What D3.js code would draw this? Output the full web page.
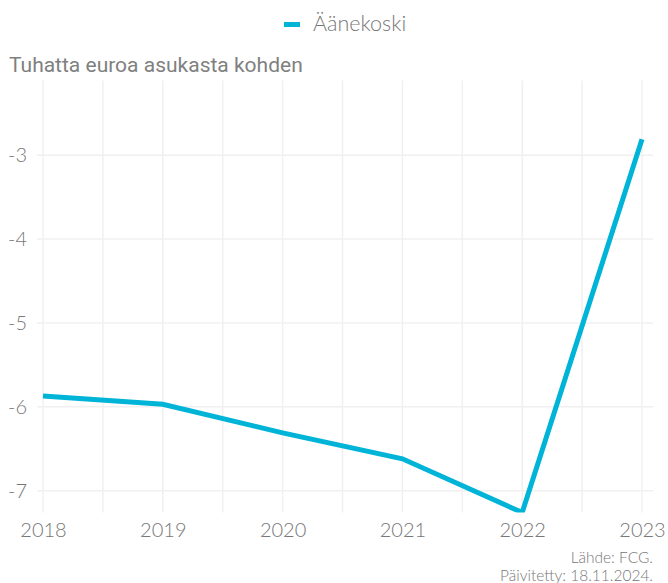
<!DOCTYPE html>
<html>
<head>
<meta charset="utf-8">
<script src="https://cdn.jsdelivr.net/npm/d3@7/dist/d3.min.js"></script>
<style>
  html, body { margin: 0; padding: 0; background: #fff; }
  svg { display: block; }
</style>
</head>
<body>
<svg id="chart" width="668" height="583"></svg>
<script>
// Annual values, thousand euros per inhabitant
const seriesName = "Äänekoski";
const years = [2018, 2019, 2020, 2021, 2022, 2023];
const values = [-5.87, -5.97, -6.31, -6.62, -7.26, -2.81];
const yTicks = [-3, -4, -5, -6, -7];
const yTitle = "Tuhatta euroa asukasta kohden";
const sourceLines = ["Lähde: FCG.", "Päivitetty: 18.11.2024."];

const W = 668, H = 583;
const plot = { left: 43, right: 642, top: 80.5, bottom: 512.5 };
const gridLeft = 37, gridRight = 653;
const lineColor = "#00b4d8";
const textColor = "#777777";
const gridColor = "#f0f0f0";
const labelFont = "Lato, sans-serif";

const svg = d3.select("#chart");

const x = d3.scaleLinear().domain([years[0], years[years.length - 1]]).range([plot.left, plot.right]);
const y = d3.scaleLinear().domain([-7.26, -2.11]).range([plot.bottom, plot.top]);

// vertical grid, every half year
const halfYears = d3.range(years[0], years[years.length - 1] + 0.01, 0.5);
svg.append("g").selectAll("line").data(halfYears).join("line")
  .attr("x1", d => x(d)).attr("x2", d => x(d))
  .attr("y1", plot.top).attr("y2", plot.bottom)
  .attr("stroke", gridColor).attr("stroke-width", 1.5);

// horizontal grid
svg.append("g").selectAll("line").data(yTicks).join("line")
  .attr("x1", gridLeft).attr("x2", gridRight)
  .attr("y1", d => y(d)).attr("y2", d => y(d))
  .attr("stroke", gridColor).attr("stroke-width", 1.5);

// axes (plain hyphen for negatives)
const yAxis = svg.append("g")
  .attr("transform", `translate(${gridLeft},0)`)
  .call(d3.axisLeft(y).tickValues(yTicks).tickSize(0).tickPadding(10).tickFormat(d => String(d)));
const xAxis = svg.append("g")
  .attr("transform", `translate(0,${plot.bottom})`)
  .call(d3.axisBottom(x).tickValues(years).tickSize(0).tickPadding(10).tickFormat(d => String(d)));
[yAxis, xAxis].forEach(g => {
  g.select(".domain").remove();
  g.selectAll("text")
    .attr("fill", textColor)
    .style("font-family", labelFont)
    .style("font-weight", 300)
    .style("font-size", "20px");
});

// clip to the plot area
svg.append("clipPath").attr("id", "plotClip")
  .append("rect")
  .attr("x", plot.left - 10).attr("y", plot.top)
  .attr("width", plot.right - plot.left + 20).attr("height", plot.bottom - plot.top);

const line = d3.line().x((d, i) => x(years[i])).y(d => y(d));
svg.append("path")
  .datum(values)
  .attr("clip-path", "url(#plotClip)")
  .attr("d", line)
  .attr("fill", "none")
  .attr("stroke", lineColor)
  .attr("stroke-width", 5)
  .attr("stroke-linejoin", "miter");

// legend
const legend = svg.append("g");
legend.append("rect")
  .attr("x", 284).attr("y", 22).attr("width", 16).attr("height", 5)
  .attr("fill", lineColor);
legend.append("text")
  .attr("x", 313).attr("y", 31)
  .attr("fill", textColor)
  .style("font-family", labelFont)
  .style("font-weight", 300)
  .style("font-size", "21.5px")
  .text(seriesName);

// axis title
svg.append("text")
  .attr("x", 9).attr("y", 72)
  .attr("fill", "#808080")
  .style("font-family", "Roboto, 'Liberation Sans', sans-serif")
  .style("font-size", "21px")
  .text(yTitle);

// source
svg.append("g").selectAll("text").data(sourceLines).join("text")
  .attr("x", 653).attr("y", (d, i) => 563 + i * 17.5)
  .attr("text-anchor", "end")
  .attr("fill", textColor)
  .style("font-family", labelFont)
  .style("font-weight", 300)
  .style("font-size", "15.5px")
  .text(d => d);
</script>
</body>
</html>
